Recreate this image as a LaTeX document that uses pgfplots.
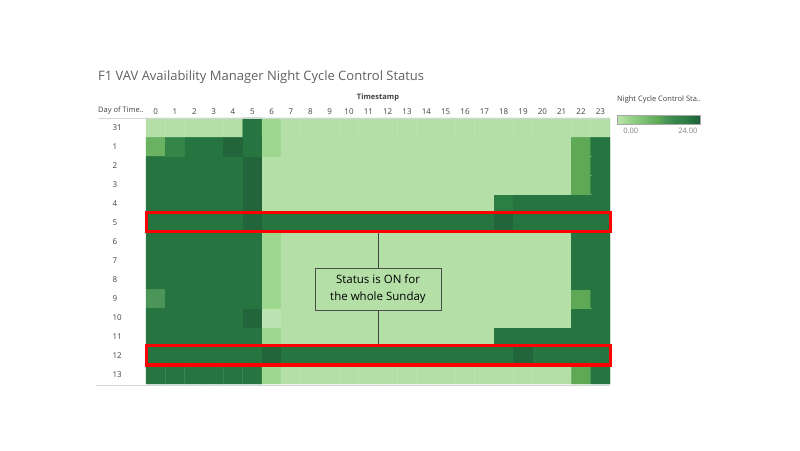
\documentclass[border=0pt]{standalone}
\usepackage{pgfplots}
\pgfplotsset{compat=1.18}
\usepackage{fontspec}
\setmainfont{Open Sans}
\definecolor{titlegray}{RGB}{96,96,96}
\definecolor{tickgray}{RGB}{64,64,64}
\definecolor{linegray}{RGB}{212,212,212}
\definecolor{lightcell}{RGB}{180,224,167}
\definecolor{redbox}{RGB}{255,0,0}
\begin{document}
\begin{tikzpicture}
\path[use as bounding box] (0pt,0pt) rectangle (800pt,450pt);
\begin{axis}[
  at={(146pt,66pt)}, anchor=south west,
  scale only axis, width=464pt, height=266pt,
  xmin=-0.5, xmax=23.5, ymin=-0.5, ymax=13.5,
  axis line style={draw=none},
  xtick={0,...,23}, ytick={0,...,13},
  yticklabels={13,12,11,10,9,8,7,6,5,4,3,2,1,31},
  xticklabel pos=right,
  major tick length=0pt,
  /pgf/number format/assume math mode=true,
  tick label style={font=\fontsize{8}{9.5}\selectfont, text=tickgray},
  yticklabel style={anchor=west, xshift=-37pt},
  colormap={tab}{rgb255(0pt)=(188,228,178) rgb255(1pt)=(180,224,167) rgb255(3pt)=(158,216,143) rgb255(10pt)=(106,178,98) rgb255(12pt)=(95,168,85) rgb255(14pt)=(74,149,87) rgb255(17pt)=(53,133,73) rgb255(20pt)=(44,126,68) rgb255(21pt)=(38,117,64) rgb255(23pt)=(34,101,58) rgb255(24pt)=(30,95,55)},
  point meta min=0, point meta max=24,
  colorbar horizontal,
  colorbar style={
    at={(parent axis.north east)}, anchor=south west, xshift=7pt, yshift=2pt,
    scale only axis, width=83pt, height=9pt,
    xtick={4,20.5}, xticklabels={0.00,24.00},
    major tick length=0pt,
    /pgf/number format/assume math mode=true,
    axis line style={draw=gray!70, line width=0.4pt},
    xticklabel style={font=\fontsize{7.5}{9}\selectfont, text=gray},
  },
  clip=false,
]
\addplot[matrix plot*, shader=faceted, faceted color=mapped color, line width=0.3pt, mesh/cols=24, point meta=explicit] coordinates {
(0,0)[21] (1,0)[21] (2,0)[21] (3,0)[21] (4,0)[21] (5,0)[21] (6,0)[3] (7,0)[1] (8,0)[1] (9,0)[1] (10,0)[1] (11,0)[1] (12,0)[1] (13,0)[1] (14,0)[1] (15,0)[1] (16,0)[1] (17,0)[1] (18,0)[1] (19,0)[1] (20,0)[1] (21,0)[1] (22,0)[12] (23,0)[21]
(0,1)[21] (1,1)[21] (2,1)[21] (3,1)[21] (4,1)[21] (5,1)[21] (6,1)[23] (7,1)[21] (8,1)[21] (9,1)[21] (10,1)[21] (11,1)[21] (12,1)[21] (13,1)[21] (14,1)[21] (15,1)[21] (16,1)[21] (17,1)[21] (18,1)[21] (19,1)[23] (20,1)[21] (21,1)[21] (22,1)[21] (23,1)[21]
(0,2)[21] (1,2)[21] (2,2)[21] (3,2)[21] (4,2)[21] (5,2)[21] (6,2)[3] (7,2)[1] (8,2)[1] (9,2)[1] (10,2)[1] (11,2)[1] (12,2)[1] (13,2)[1] (14,2)[1] (15,2)[1] (16,2)[1] (17,2)[1] (18,2)[21] (19,2)[21] (20,2)[21] (21,2)[21] (22,2)[21] (23,2)[21]
(0,3)[21] (1,3)[21] (2,3)[21] (3,3)[21] (4,3)[21] (5,3)[23] (6,3)[0] (7,3)[1] (8,3)[1] (9,3)[1] (10,3)[1] (11,3)[1] (12,3)[1] (13,3)[1] (14,3)[1] (15,3)[1] (16,3)[1] (17,3)[1] (18,3)[1] (19,3)[1] (20,3)[1] (21,3)[1] (22,3)[21] (23,3)[21]
(0,4)[14] (1,4)[21] (2,4)[21] (3,4)[21] (4,4)[21] (5,4)[21] (6,4)[3] (7,4)[1] (8,4)[1] (9,4)[1] (10,4)[1] (11,4)[1] (12,4)[1] (13,4)[1] (14,4)[1] (15,4)[1] (16,4)[1] (17,4)[1] (18,4)[1] (19,4)[1] (20,4)[1] (21,4)[1] (22,4)[12] (23,4)[21]
(0,5)[21] (1,5)[21] (2,5)[21] (3,5)[21] (4,5)[21] (5,5)[21] (6,5)[3] (7,5)[1] (8,5)[1] (9,5)[1] (10,5)[1] (11,5)[1] (12,5)[1] (13,5)[1] (14,5)[1] (15,5)[1] (16,5)[1] (17,5)[1] (18,5)[1] (19,5)[1] (20,5)[1] (21,5)[1] (22,5)[21] (23,5)[21]
(0,6)[21] (1,6)[21] (2,6)[21] (3,6)[21] (4,6)[21] (5,6)[21] (6,6)[3] (7,6)[1] (8,6)[1] (9,6)[1] (10,6)[1] (11,6)[1] (12,6)[1] (13,6)[1] (14,6)[1] (15,6)[1] (16,6)[1] (17,6)[1] (18,6)[1] (19,6)[1] (20,6)[1] (21,6)[1] (22,6)[21] (23,6)[21]
(0,7)[21] (1,7)[21] (2,7)[21] (3,7)[21] (4,7)[21] (5,7)[21] (6,7)[3] (7,7)[1] (8,7)[1] (9,7)[1] (10,7)[1] (11,7)[1] (12,7)[1] (13,7)[1] (14,7)[1] (15,7)[1] (16,7)[1] (17,7)[1] (18,7)[1] (19,7)[1] (20,7)[1] (21,7)[1] (22,7)[21] (23,7)[21]
(0,8)[21] (1,8)[21] (2,8)[21] (3,8)[21] (4,8)[21] (5,8)[23] (6,8)[21] (7,8)[21] (8,8)[21] (9,8)[21] (10,8)[21] (11,8)[21] (12,8)[21] (13,8)[21] (14,8)[21] (15,8)[21] (16,8)[21] (17,8)[21] (18,8)[23] (19,8)[21] (20,8)[21] (21,8)[21] (22,8)[21] (23,8)[21]
(0,9)[21] (1,9)[21] (2,9)[21] (3,9)[21] (4,9)[21] (5,9)[23] (6,9)[1] (7,9)[1] (8,9)[1] (9,9)[1] (10,9)[1] (11,9)[1] (12,9)[1] (13,9)[1] (14,9)[1] (15,9)[1] (16,9)[1] (17,9)[1] (18,9)[20] (19,9)[21] (20,9)[21] (21,9)[21] (22,9)[21] (23,9)[21]
(0,10)[21] (1,10)[21] (2,10)[21] (3,10)[21] (4,10)[21] (5,10)[23] (6,10)[1] (7,10)[1] (8,10)[1] (9,10)[1] (10,10)[1] (11,10)[1] (12,10)[1] (13,10)[1] (14,10)[1] (15,10)[1] (16,10)[1] (17,10)[1] (18,10)[1] (19,10)[1] (20,10)[1] (21,10)[1] (22,10)[12] (23,10)[21]
(0,11)[21] (1,11)[21] (2,11)[21] (3,11)[21] (4,11)[21] (5,11)[23] (6,11)[1] (7,11)[1] (8,11)[1] (9,11)[1] (10,11)[1] (11,11)[1] (12,11)[1] (13,11)[1] (14,11)[1] (15,11)[1] (16,11)[1] (17,11)[1] (18,11)[1] (19,11)[1] (20,11)[1] (21,11)[1] (22,11)[12] (23,11)[21]
(0,12)[10] (1,12)[17] (2,12)[21] (3,12)[21] (4,12)[23] (5,12)[21] (6,12)[3] (7,12)[1] (8,12)[1] (9,12)[1] (10,12)[1] (11,12)[1] (12,12)[1] (13,12)[1] (14,12)[1] (15,12)[1] (16,12)[1] (17,12)[1] (18,12)[1] (19,12)[1] (20,12)[1] (21,12)[1] (22,12)[12] (23,12)[21]
(0,13)[1] (1,13)[1] (2,13)[1] (3,13)[1] (4,13)[1] (5,13)[21] (6,13)[3] (7,13)[1] (8,13)[1] (9,13)[1] (10,13)[1] (11,13)[1] (12,13)[1] (13,13)[1] (14,13)[1] (15,13)[1] (16,13)[1] (17,13)[1] (18,13)[1] (19,13)[1] (20,13)[1] (21,13)[1] (22,13)[1] (23,13)[1]
};
\draw[black!75, line width=0.8pt] (axis cs:11.5,7.5) -- (axis cs:11.5,1.5);
\node[draw=black!70, line width=0.6pt, fill=lightcell, minimum width=126pt, minimum height=42pt, align=center, inner sep=2pt,
  font=\fontsize{11.5}{17}\selectfont, text=black] at (axis cs:11.5,4.5) {Status is ON for\\the whole Sunday};
\draw[redbox, line width=3pt] (axis cs:-0.5,7.5) rectangle (axis cs:23.5,8.5);
\draw[redbox, line width=3pt] (axis cs:-0.5,0.5) rectangle (axis cs:23.5,1.5);
\node[font=\fontsize{7.5}{9}\selectfont\bfseries, text=tickgray] at (axis cs:11.5,13.5) [yshift=20pt] {Timestamp};
\end{axis}
\draw[linegray, line width=0.8pt] (98pt,332pt) -- (610pt,332pt);
\draw[linegray, line width=0.8pt] (96pt,65pt) -- (610pt,65pt);
\node[anchor=west, inner sep=0pt, font=\fontsize{7.5}{9}\selectfont, text=tickgray] at (98pt,339pt) {Day of Time..};
\node[anchor=west, inner sep=0pt, font=\fontsize{13}{15}\selectfont, text=titlegray] at (98pt,373pt) {F1 VAV Availability Manager Night Cycle Control Status};
\node[anchor=west, inner sep=0pt, font=\fontsize{7.5}{9}\selectfont, text=tickgray] at (617pt,350pt) {Night Cycle Control Sta..};
\end{tikzpicture}
\end{document}
